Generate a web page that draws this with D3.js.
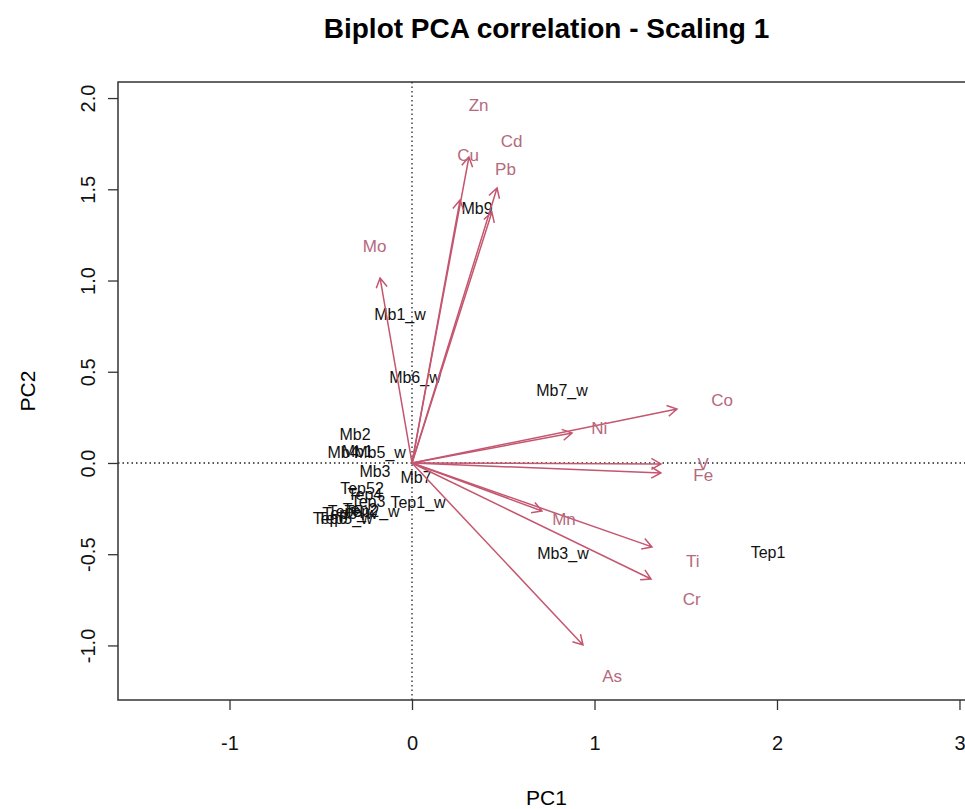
<!DOCTYPE html>
<html>
<head>
<meta charset="utf-8">
<script src="https://cdn.jsdelivr.net/npm/d3@7"></script>
<style>
  body { margin: 0; background: #fff; }
  svg { font-family: "Liberation Sans", Arial, sans-serif; }
</style>
</head>
<body>
<div id="wrapper"></div>
<script>
// variable loadings (arrow tips)
const varNames = ["Zn", "Cu", "Cd", "Pb", "Mo", "Co", "Ni", "V", "Fe", "Mn", "Ti", "Cr", "As"];
const varPC1 = [0.312, 0.263, 0.466, 0.438, -0.175, 1.452, 0.877, 1.364, 1.364, 0.712, 1.315, 1.310, 0.937];
const varPC2 = [1.677, 1.441, 1.507, 1.375, 1.014, 0.296, 0.164, -0.005, -0.055, -0.263, -0.460, -0.636, -0.997];
const labelFactor = 1.17;

// site scores (labels only)
const siteNames = ["Mb9", "Mb1_w", "Mb6_w", "Mb7_w", "Mb2", "Mb4", "Mb1", "Mb5_w", "Mb3", "Mb7",
  "Tep52", "Tep4", "Tep3", "Tep1_w", "Tep2", "Tep2_w", "Tep5", "Tep3_w", "Tep6", "Tep5_w", "Mb3_w", "Tep1"];
const sitePC1 = [0.356, -0.066, 0.016, 0.822, -0.312, -0.378, -0.300, -0.175, -0.203, 0.022,
  -0.274, -0.258, -0.241, 0.033, -0.285, -0.219, -0.367, -0.340, -0.449, -0.367, 0.827, 1.951];
const sitePC2 = [1.397, 0.816, 0.471, 0.400, 0.159, 0.060, 0.065, 0.060, -0.044, -0.077,
  -0.137, -0.170, -0.208, -0.214, -0.252, -0.268, -0.268, -0.279, -0.301, -0.301, -0.493, -0.488];

const xTicks = [-1, 0, 1, 2, 3];
const yTicks = [-1.0, -0.5, 0.0, 0.5, 1.0, 1.5, 2.0];

const width = 965, height = 809;
const plot = {left: 118, right: 975, top: 82, bottom: 700};
const arrowCol = "#c4566f", varTextCol = "#b5697d";
const font = "'Liberation Sans', Arial, sans-serif";

const x = d3.scaleLinear().domain([-1.611, 3.085]).range([plot.left, plot.right]);
const y = d3.scaleLinear().domain([-1.299, 2.088]).range([plot.bottom, plot.top]);

const svg = d3.select("#wrapper").append("svg")
  .attr("width", width)
  .attr("height", height);

svg.append("text")
  .attr("x", (plot.left + plot.right) / 2)
  .attr("y", 38)
  .attr("text-anchor", "middle")
  .style("font-size", "28px")
  .style("font-weight", "bold")
  .text("Biplot PCA correlation - Scaling 1");

// dotted zero lines
svg.append("line")
  .attr("x1", x(0)).attr("x2", x(0))
  .attr("y1", plot.top).attr("y2", plot.bottom)
  .attr("stroke", "#222").attr("stroke-width", 1.3)
  .attr("stroke-dasharray", "1.5,3");
svg.append("line")
  .attr("x1", plot.left).attr("x2", plot.right)
  .attr("y1", y(0)).attr("y2", y(0))
  .attr("stroke", "#222").attr("stroke-width", 1.3)
  .attr("stroke-dasharray", "1.5,3");

// site labels
svg.append("g")
  .selectAll("text")
  .data(siteNames)
  .join("text")
  .attr("x", (d, i) => x(sitePC1[i]))
  .attr("y", (d, i) => y(sitePC2[i]))
  .attr("dy", "0.35em")
  .attr("text-anchor", "middle")
  .style("font-size", "16px")
  .attr("fill", "#111")
  .text(d => d);

// arrows
const headLen = 11, headAng = Math.PI / 6;
const gArrows = svg.append("g")
  .attr("fill", "none")
  .attr("stroke", arrowCol)
  .attr("stroke-width", 1.5);

gArrows.selectAll("path")
  .data(varNames)
  .join("path")
  .attr("d", (d, i) => {
    const x0 = x(0), y0 = y(0), x1 = x(varPC1[i]), y1 = y(varPC2[i]);
    const a = Math.atan2(y1 - y0, x1 - x0);
    const p = d3.path();
    p.moveTo(x0, y0);
    p.lineTo(x1, y1);
    p.moveTo(x1 - headLen * Math.cos(a - headAng), y1 - headLen * Math.sin(a - headAng));
    p.lineTo(x1, y1);
    p.lineTo(x1 - headLen * Math.cos(a + headAng), y1 - headLen * Math.sin(a + headAng));
    return p.toString();
  });

svg.append("g")
  .selectAll("text")
  .data(varNames)
  .join("text")
  .attr("x", (d, i) => x(varPC1[i] * labelFactor))
  .attr("y", (d, i) => y(varPC2[i] * labelFactor))
  .attr("dy", "0.35em")
  .attr("text-anchor", "middle")
  .style("font-size", "17px")
  .attr("fill", varTextCol)
  .text(d => d);

// box
svg.append("rect")
  .attr("x", plot.left).attr("y", plot.top)
  .attr("width", plot.right - plot.left).attr("height", plot.bottom - plot.top)
  .attr("fill", "none").attr("stroke", "#333").attr("stroke-width", 1.5);

// axes (R style: hyphen minus)
const xAxis = d3.axisBottom(x).tickValues(xTicks).tickFormat(d => d3.format("d")(d).replace("−", "-"))
  .tickSize(10).tickPadding(26);
const gx = svg.append("g").attr("transform", `translate(0,${plot.bottom})`).call(xAxis);
gx.select(".domain").remove();
gx.selectAll("line").attr("stroke", "#333").attr("stroke-width", 1.3);
gx.selectAll("text").style("font-size", "20px").attr("fill", "#111")
  .style("font-family", font);

const yAxis = d3.axisLeft(y).tickValues(yTicks).tickFormat(d => d3.format(".1f")(d).replace("−", "-")).tickSize(10);
const gy = svg.append("g").attr("transform", `translate(${plot.left},0)`).call(yAxis);
gy.select(".domain").remove();
gy.selectAll("line").attr("stroke", "#333").attr("stroke-width", 1.3);
gy.selectAll("text")
  .attr("x", null)
  .attr("text-anchor", "middle")
  .attr("transform", "translate(-30,0) rotate(-90)")
  .attr("dy", "0.35em")
  .style("font-size", "20px").attr("fill", "#111")
  .style("font-family", font);

svg.append("text")
  .attr("x", (plot.left + plot.right) / 2)
  .attr("y", 805)
  .attr("text-anchor", "middle")
  .style("font-size", "21px")
  .text("PC1");

svg.append("text")
  .attr("transform", `translate(35,${(plot.top + plot.bottom) / 2}) rotate(-90)`)
  .attr("text-anchor", "middle")
  .style("font-size", "21px")
  .text("PC2");
</script>
</body>
</html>
